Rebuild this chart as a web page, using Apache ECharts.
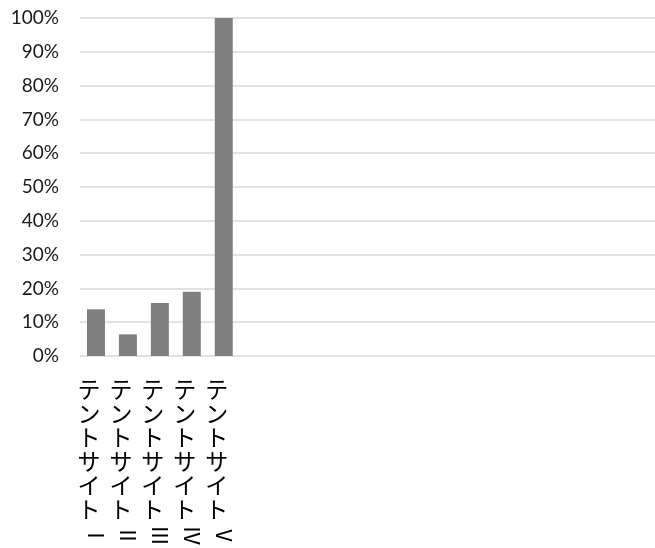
<!DOCTYPE html>
<html><head><meta charset="utf-8">
<script src="https://cdn.jsdelivr.net/npm/echarts@6/dist/echarts.min.js"></script>
<style>html,body{margin:0;padding:0;background:#fff}#c{width:655px;height:548px}</style>
</head><body><div id="c"></div>
<script>
// category names are "テントサイト" + roman numeral; numeral drawn rotated like the reference's vertical text
var catBase = ['テントサイト','テントサイト','テントサイト','テントサイト','テントサイト','','','','','','','','','','','','',''];
var catNumeral = ['Ⅰ','Ⅱ','Ⅲ','Ⅳ','Ⅴ','','','','','','','','','','','','',''];
var values = [13.8, 6.4, 15.7, 19.0, 100];
var yTicks = [0,10,20,30,40,50,60,70,80,90,100];

var chart = echarts.init(document.getElementById('c'), null, {renderer:'canvas'});
chart.setOption({
  animation:false,
  grid:{left:80,right:0,top:18,bottom:192,containLabel:false,outerBoundsMode:'none'},
  xAxis:[{type:'category',data:catBase,
    axisLine:{show:false},axisTick:{show:false},
    axisLabel:{interval:0,margin:21,color:'#000',fontSize:23,lineHeight:24,
      fontFamily:'"Noto Sans CJK JP"',verticalAlign:'top',padding:[0,14,0,0],
      formatter:function(v){return v.split('').join('\n');}}},
    {type:'category',data:catNumeral,position:'bottom',
    axisLine:{show:false},axisTick:{show:false},splitLine:{show:false},
    axisLabel:{interval:0,margin:169,rotate:-90,color:'#000',fontSize:21,
      fontFamily:'"Noto Sans CJK JP"'}}],
  yAxis:{type:'value',min:0,max:100,interval:10,
    axisLine:{show:false},axisTick:{show:false},
    splitLine:{lineStyle:{color:'#d9d9d9',width:1.5}},
    axisLabel:{margin:21,color:'#1a1a1a',fontSize:19,fontFamily:'Lato',
      formatter:function(v){return v+'%';}}},
  series:[{type:'bar',data:values,barWidth:18,xAxisIndex:0,itemStyle:{color:'#7f7f7f'}}]
});
</script></body></html>
